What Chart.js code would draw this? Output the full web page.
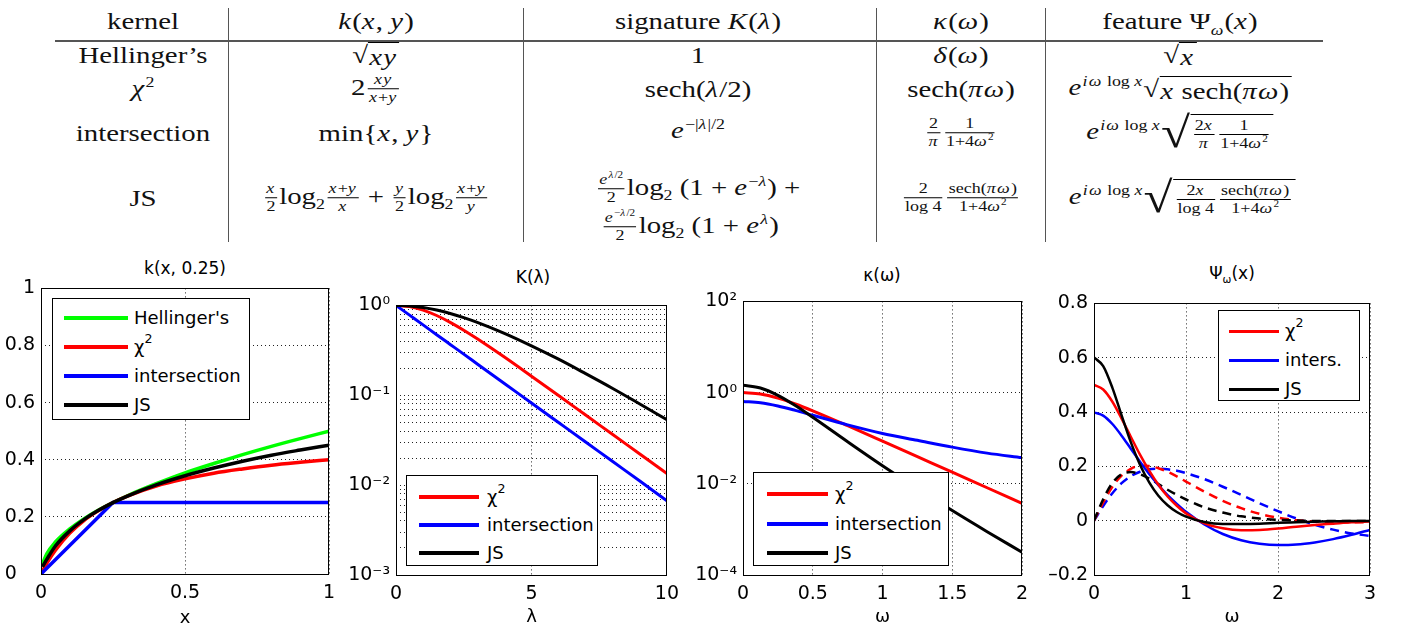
<!DOCTYPE html>
<html>
<head>
<meta charset="utf-8">
<title>kernel signatures</title>
<script src="https://cdn.jsdelivr.net/npm/chart.js@4.4.1/dist/chart.umd.min.js"></script>
<style>
  body { margin: 0; width: 1403px; height: 631px; position: relative; overflow: hidden; background: #fff; }
  .cell { position: absolute; transform: translate(-50%, -50%) scaleX(1.2); white-space: nowrap;
          font-family: "Liberation Serif", serif; font-size: 24px; line-height: 1; color: #111; }
  .cell i { letter-spacing: 1px; }
  .fr { display: inline-block; vertical-align: middle; text-align: center; font-size: 15px; line-height: 1.15; margin: 0 2px; }
  .fr > span { display: block; padding: 0 1px; }
  .fr > span:first-child { border-bottom: 1px solid #000; }
  .rt { display: inline-block; vertical-align: middle; }
  .rt.big { font-size: 44px; font-weight: lighter; }
  .ov { display: inline-block; vertical-align: middle; border-top: 1px solid #000; padding: 2px 2px 0 1px; }
  sup, sub { font-size: 0.62em; line-height: 0; }
  .vl { position: absolute; top: 8px; height: 234px; width: 1px; background: #555; }
  .hl { position: absolute; top: 40px; left: 55px; width: 1268px; height: 2px; background: #555; }
  canvas { position: absolute; }
  .ttl { position: absolute; transform: translate(-50%, -50%); font-family: "DejaVu Sans", sans-serif; font-size: 17px; white-space: nowrap; }
  .leg { position: absolute; border: 1px solid #000; background: #fff; box-sizing: border-box;
         font-family: "DejaVu Sans", sans-serif; font-size: 18px; }
</style>
</head>
<body>

<div class="hl"></div>
<div class="vl" style="left:228px"></div>
<div class="vl" style="left:523px"></div>
<div class="vl" style="left:876px"></div>
<div class="vl" style="left:1045px"></div>

<!-- header -->
<div class="cell" style="left:143px;top:21px">kernel</div>
<div class="cell" style="left:376px;top:21px"><i>k</i>(<i>x</i>, <i>y</i>)</div>
<div class="cell" style="left:698px;top:21px">signature <i>K</i>(<i>λ</i>)</div>
<div class="cell" style="left:961px;top:21px"><i>κ</i>(<i>ω</i>)</div>
<div class="cell" style="left:1180px;top:21px">feature Ψ<sub><i>ω</i></sub>(<i>x</i>)</div>

<!-- Hellinger -->
<div class="cell" style="left:143px;top:55px">Hellinger’s</div>
<div class="cell" style="left:376px;top:55px"><span class="rt">√</span><span class="ov"><i>xy</i></span></div>
<div class="cell" style="left:698px;top:55px">1</div>
<div class="cell" style="left:961px;top:55px"><i>δ</i>(<i>ω</i>)</div>
<div class="cell" style="left:1180px;top:55px"><span class="rt">√</span><span class="ov"><i>x</i></span></div>

<!-- chi2 -->
<div class="cell" style="left:143px;top:88px"><i>χ</i><sup>2</sup></div>
<div class="cell" style="left:376px;top:89px">2<span class="fr"><span><i>xy</i></span><span><i>x</i>+<i>y</i></span></span></div>
<div class="cell" style="left:698px;top:89px">sech(<i>λ</i>/2)</div>
<div class="cell" style="left:961px;top:89px">sech(<i>πω</i>)</div>
<div class="cell" style="left:1180px;top:89px"><i>e</i><sup><i>iω</i> log <i>x</i></sup><span class="rt">√</span><span class="ov"><i>x</i> sech(<i>πω</i>)</span></div>

<!-- intersection -->
<div class="cell" style="left:143px;top:133px">intersection</div>
<div class="cell" style="left:376px;top:133px">min{<i>x</i>, <i>y</i>}</div>
<div class="cell" style="left:698px;top:130px"><i>e</i><sup>−|<i>λ</i>|/2</sup></div>
<div class="cell" style="left:961px;top:133px"><span class="fr"><span>2</span><span><i>π</i></span></span><span class="fr"><span>1</span><span>1+4<i>ω</i><sup>2</sup></span></span></div>
<div class="cell" style="left:1180px;top:133px"><i>e</i><sup><i>iω</i> log <i>x</i></sup><span class="rt big">√</span><span class="ov"><span class="fr"><span>2<i>x</i></span><span><i>π</i></span></span><span class="fr"><span>1</span><span>1+4<i>ω</i><sup>2</sup></span></span></span></div>

<!-- JS -->
<div class="cell" style="left:143px;top:198px">JS</div>
<div class="cell" style="left:376px;top:198px"><span class="fr"><span><i>x</i></span><span>2</span></span>log<sub>2</sub><span class="fr"><span><i>x</i>+<i>y</i></span><span><i>x</i></span></span> + <span class="fr"><span><i>y</i></span><span>2</span></span>log<sub>2</sub><span class="fr"><span><i>x</i>+<i>y</i></span><span><i>y</i></span></span></div>
<div class="cell" style="left:698px;top:189px"><span class="fr"><span><i>e</i><sup><i>λ</i>/2</sup></span><span>2</span></span>log<sub>2</sub> (1 + <i>e</i><sup>−<i>λ</i></sup>) +</div>
<div class="cell" style="left:690px;top:227px"><span class="fr"><span><i>e</i><sup>−<i>λ</i>/2</sup></span><span>2</span></span>log<sub>2</sub> (1 + <i>e</i><sup><i>λ</i></sup>)</div>
<div class="cell" style="left:961px;top:198px"><span class="fr"><span>2</span><span>log 4</span></span><span class="fr"><span>sech(<i>πω</i>)</span><span>1+4<i>ω</i><sup>2</sup></span></span></div>
<div class="cell" style="left:1182px;top:198px"><i>e</i><sup><i>iω</i> log <i>x</i></sup><span class="rt big">√</span><span class="ov"><span class="fr"><span>2<i>x</i></span><span>log 4</span></span><span class="fr"><span>sech(<i>πω</i>)</span><span>1+4<i>ω</i><sup>2</sup></span></span></span></div>

<!-- plot titles -->
<div class="ttl" style="left:185px;top:268px">k(x, 0.25)</div>
<div class="ttl" style="left:533px;top:277px">K(λ)</div>
<div class="ttl" style="left:882px;top:275px">κ(ω)</div>
<div class="ttl" style="left:1232px;top:273px">Ψ<sub>ω</sub>(x)</div>

<canvas id="c1"></canvas>
<canvas id="c2"></canvas>
<canvas id="c3"></canvas>
<canvas id="c4"></canvas>

<script>
// ---- k(x, 0.25) ----
const kX      = [0.005, 0.02, 0.05, 0.1, 0.15, 0.2, 0.25, 0.3, 0.4, 0.5, 0.6, 0.7, 0.8, 0.9, 1];
const kHell   = [0.035, 0.071, 0.112, 0.158, 0.194, 0.224, 0.25, 0.274, 0.316, 0.354, 0.387, 0.418, 0.447, 0.474, 0.50];
const kChi    = [0.010, 0.037, 0.083, 0.143, 0.188, 0.222, 0.25, 0.273, 0.308, 0.333, 0.353, 0.368, 0.381, 0.391, 0.40];
const kJS     = [0.025, 0.051, 0.098, 0.151, 0.191, 0.223, 0.25, 0.273, 0.312, 0.344, 0.371, 0.395, 0.416, 0.434, 0.451];
const kIntX   = [0, 0.25, 1];
const kInt    = [0, 0.25, 0.25];

// ---- K(lambda) ----
const lam     = [0, 0.5, 1, 1.5, 2, 2.5, 3, 4, 5, 6, 7, 8, 9, 10];
const sigChi  = [1, 0.970, 0.887, 0.772, 0.648, 0.530, 0.425, 0.266, 0.163, 0.0993, 0.0602, 0.0366, 0.0222, 0.0135];
const sigInt  = [1, 0.779, 0.607, 0.472, 0.368, 0.287, 0.223, 0.135, 0.0821, 0.0498, 0.0302, 0.0183, 0.0111, 0.0067];
const sigJS   = [1, 0.986, 0.947, 0.887, 0.813, 0.732, 0.648, 0.489, 0.355, 0.252, 0.174, 0.119, 0.080, 0.0535];

// ---- kappa(omega) ----
const om3     = [0, 0.125, 0.25, 0.375, 0.5, 0.75, 1, 1.25, 1.5, 1.75, 2];
const kapChi  = [1, 0.928, 0.755, 0.563, 0.399, 0.188, 0.0863, 0.0394, 0.0180, 0.00819, 0.00374];
const kapInt  = [0.637, 0.599, 0.509, 0.407, 0.318, 0.196, 0.127, 0.0898, 0.0637, 0.0471, 0.0375];
const kapJS   = [1.443, 1.26, 0.871, 0.520, 0.2875, 0.0835, 0.0249, 0.00784, 0.00259, 0.000892, 0.000317];

// ---- Psi_omega(x), solid = real part, dashed = imaginary part ----
const om4      = [0, 0.1, 0.2, 0.3, 0.4, 0.5, 0.6, 0.7, 0.8, 0.9, 1.0, 1.2, 1.4, 1.6, 1.8, 2.0, 2.2, 2.4, 2.6, 2.8, 3.0];
const psiChiRe = [0.5, 0.483, 0.438, 0.376, 0.309, 0.243, 0.184, 0.132, 0.089, 0.055, 0.027, -0.010, -0.028, -0.035, -0.034, -0.029, -0.022, -0.016, -0.011, -0.006, -0.003];
const psiChiIm = [0, 0.067, 0.125, 0.166, 0.191, 0.202, 0.201, 0.193, 0.180, 0.163, 0.144, 0.107, 0.073, 0.046, 0.025, 0.011, 0.002, -0.003, -0.005, -0.006, -0.005];
const psiIntRe = [0.399, 0.387, 0.356, 0.313, 0.265, 0.217, 0.172, 0.131, 0.094, 0.062, 0.033, -0.014, -0.049, -0.072, -0.085, -0.090, -0.088, -0.080, -0.068, -0.052, -0.034];
const psiIntIm = [0, 0.054, 0.101, 0.138, 0.164, 0.180, 0.189, 0.191, 0.189, 0.184, 0.175, 0.153, 0.125, 0.095, 0.064, 0.035, 0.008, -0.015, -0.033, -0.047, -0.056];
const psiJSRe  = [0.601, 0.569, 0.489, 0.388, 0.289, 0.206, 0.141, 0.092, 0.057, 0.032, 0.015, -0.005, -0.012, -0.012, -0.011, -0.008, -0.006, -0.004, -0.002, -0.001, -0.001];
const psiJSIm  = [0, 0.079, 0.139, 0.171, 0.179, 0.171, 0.155, 0.135, 0.114, 0.095, 0.078, 0.049, 0.030, 0.016, 0.008, 0.003, 0.001, -0.001, -0.001, -0.001, -0.001];

// ticks
const k1XTicks = [0, 0.5, 1],   k1XLabels = ['0', '0.5', '1'];
const k1YTicks = [0, 0.2, 0.4, 0.6, 0.8, 1], k1YLabels = ['0\u2008\u2007', '0.2', '0.4', '0.6', '0.8', '1'];
const k2XTicks = [0, 5, 10],    k2XLabels = ['0', '5', '10'];
const k2YMajor = [0.001, 0.01, 0.1, 1], k2YLabels = ['10⁻³', '10⁻²', '10⁻¹', '10⁰'];
const k3XTicks = [0, 0.5, 1, 1.5, 2], k3XLabels = ['0', '0.5', '1', '1.5', '2'];
const k3YTicks = [0.0001, 0.01, 1, 100], k3YLabels = ['10⁻⁴', '10⁻²', '10⁰', '10²'];
const k4XTicks = [0, 1, 2, 3],  k4XLabels = ['0', '1', '2', '3'];
const k4YTicks = [-0.2, 0, 0.2, 0.4, 0.6, 0.8], k4YLabels = ['–0.2', '0', '0.2', '0.4', '0.6', '0.8'];

// minor decades for the log grid of K(lambda)
const k2YTicks = [];
k2YMajor.slice(0, 3).forEach(d => { for (let m = 1; m < 10; m++) k2YTicks.push(d * m); });
k2YTicks.push(1);

const RED = '#ff0000', BLUE = '#0000ff', GREEN = '#00ff00', BLACK = '#000000';

function series(label, xs, ys, color, width, dash, straight) {
    return {
        label: label,
        data: xs.map((x, i) => ({ x: x, y: ys[i] })),
        borderColor: color,
        borderWidth: width,
        borderDash: dash || [],
        pointRadius: 0,
        fill: false,
        tension: straight ? 0 : 0.4,
        cubicInterpolationMode: straight ? 'default' : 'monotone'
    };
}

function axis(o) {
    return {
        type: o.type || 'linear',
        min: o.min,
        max: o.max,
        afterBuildTicks: s => { s.ticks = o.ticks.map(v => ({ value: v })); },
        afterFit: s => { if (o.w) s.width = o.w; if (o.h) s.height = o.h; },
        grid: { color: '#222', lineWidth: 1, drawTicks: false },
        border: { display: false, dash: [1, 3] },
        ticks: {
            color: '#000',
            font: { family: 'DejaVu Sans', size: 19 },
            padding: o.pad,
            autoSkip: false,
            maxRotation: 0,
            callback: o.label
        },
        title: o.title
            ? { display: true, text: o.title, color: '#000', font: { family: 'DejaVu Sans', size: 18 }, padding: 0 }
            : { display: false }
    };
}

function logLabel(major, labels) {
    return v => {
        const i = major.findIndex(m => Math.abs(Math.log10(m) - Math.log10(v)) < 1e-6);
        return i >= 0 ? labels[i] : '';
    };
}

const boxPlugin = {
    id: 'box',
    afterDatasetsDraw(chart) {
        const { ctx, chartArea: a } = chart;
        ctx.save();
        ctx.setLineDash([]);
        ctx.strokeStyle = '#000';
        ctx.lineWidth = 1;
        ctx.strokeRect(Math.round(a.left) + 0.5, Math.round(a.top) + 0.5, Math.round(a.width) - 1, Math.round(a.height));
        ctx.restore();
    }
};

function makeChart(id, area, yW, xH, datasets, xAxis, yAxis) {
    const c = document.getElementById(id);
    const left = area[0] - yW, top = area[1] - 12;
    const w = area[2] + 16 - left, h = area[3] + xH - top;
    c.style.left = left + 'px';
    c.style.top = top + 'px';
    c.width = w;
    c.height = h;
    xAxis.h = xH;
    yAxis.w = yW;
    return new Chart(c, {
        type: 'line',
        data: { datasets: datasets },
        options: {
            responsive: false,
            animation: false,
            events: [],
            devicePixelRatio: 1,
            layout: { padding: { left: 0, top: 12, right: 16, bottom: 0 } },
            plugins: { legend: { display: false }, tooltip: { enabled: false } },
            scales: { x: axis(xAxis), y: axis(yAxis) }
        },
        plugins: [boxPlugin]
    });
}

function addLegend(L, items) {
    const box = document.createElement('div');
    box.className = 'leg';
    Object.assign(box.style, { left: L.x + 'px', top: L.y + 'px', width: L.w + 'px', height: L.h + 'px' });
    items.forEach((it, i) => {
        const cy = L.first + i * L.gap - L.y;
        const line = document.createElement('div');
        Object.assign(line.style, {
            position: 'absolute', left: L.sx + 'px', width: L.sw + 'px',
            top: (cy - L.lw / 2) + 'px', height: L.lw + 'px', background: it.borderColor
        });
        const t = document.createElement('div');
        t.innerHTML = it.label.replace('²', '<sup style="font-size:0.7em;position:relative;top:-0.2em">2</sup>');
        Object.assign(t.style, {
            position: 'absolute', left: L.tx + 'px', top: cy + 'px',
            transform: 'translateY(-50%)', whiteSpace: 'nowrap', lineHeight: '1'
        });
        box.append(line, t);
    });
    document.body.append(box);
}

// chart 1
const d1 = {
    js:   series('JS', kX, kJS, BLACK, 3.5),
    int:  series('intersection', kIntX, kInt, BLUE, 3.5, null, true),
    chi:  series('χ²', kX, kChi, RED, 3.5),
    hell: series('Hellinger\'s', kX, kHell, GREEN, 3.5)
};
makeChart('c1', [41, 283, 329, 574], 41, 55, [d1.js, d1.int, d1.chi, d1.hell],
    { min: 0, max: 1, ticks: k1XTicks, label: (v, i) => k1XLabels[i], pad: 8, title: 'x' },
    { min: 0, max: 1, ticks: k1YTicks, label: (v, i) => k1YLabels[i], pad: 6 });
addLegend({ x: 52, y: 298, w: 198, h: 122, first: 317, gap: 29, sx: 11, sw: 64, tx: 81, lw: 4 },
    [d1.hell, d1.chi, d1.int, d1.js]);

// chart 2
const d2 = {
    js:  series('JS', lam, sigJS, BLACK, 3),
    int: series('intersection', lam, sigInt, BLUE, 3),
    chi: series('χ²', lam, sigChi, RED, 3)
};
makeChart('c2', [396, 300, 671, 575], 50, 53, [d2.js, d2.int, d2.chi],
    { min: 0, max: 10, ticks: k2XTicks, label: (v, i) => k2XLabels[i], pad: 8, title: 'λ' },
    { type: 'logarithmic', min: 0.001, max: 1, ticks: k2YTicks, label: logLabel(k2YMajor, k2YLabels), pad: 6 });
addLegend({ x: 406, y: 475, w: 192, h: 91, first: 496, gap: 28, sx: 12, sw: 60, tx: 80, lw: 4 },
    [d2.chi, d2.int, d2.js]);

// chart 3
const d3 = {
    js:  series('JS', om3, kapJS, BLACK, 3),
    int: series('intersection', om3, kapInt, BLUE, 3),
    chi: series('χ²', om3, kapChi, RED, 3)
};
makeChart('c3', [743, 296, 1022, 575], 53, 53, [d3.js, d3.int, d3.chi],
    { min: 0, max: 2, ticks: k3XTicks, label: (v, i) => k3XLabels[i], pad: 8, title: 'ω' },
    { type: 'logarithmic', min: 0.0001, max: 100, ticks: k3YTicks, label: logLabel(k3YTicks, k3YLabels), pad: 6 });
addLegend({ x: 753, y: 472, w: 196, h: 94, first: 493, gap: 29.5, sx: 13, sw: 61, tx: 81, lw: 4 },
    [d3.chi, d3.int, d3.js]);

// chart 4
const d4 = {
    jsRe:  series('JS', om4, psiJSRe, BLACK, 2.5),
    intRe: series('inters.', om4, psiIntRe, BLUE, 2.5),
    chiRe: series('χ²', om4, psiChiRe, RED, 2.5),
    jsIm:  series('JS (imag)', om4, psiJSIm, BLACK, 2.5, [9, 6]),
    intIm: series('inters. (imag)', om4, psiIntIm, BLUE, 2.5, [9, 6]),
    chiIm: series('χ² (imag)', om4, psiChiIm, RED, 2.5, [9, 6])
};
makeChart('c4', [1094, 298, 1370, 575], 54, 53, [d4.jsRe, d4.chiRe, d4.intRe, d4.jsIm, d4.chiIm, d4.intIm],
    { min: 0, max: 3, ticks: k4XTicks, label: (v, i) => k4XLabels[i], pad: 8, title: 'ω' },
    { min: -0.2, max: 0.8, ticks: k4YTicks, label: (v, i) => k4YLabels[i], pad: 6 });
addLegend({ x: 1218, y: 310, w: 142, h: 91, first: 330, gap: 29, sx: 10, sw: 50, tx: 66, lw: 3 },
    [d4.chiRe, d4.intRe, d4.jsRe]);
</script>
</body>
</html>
